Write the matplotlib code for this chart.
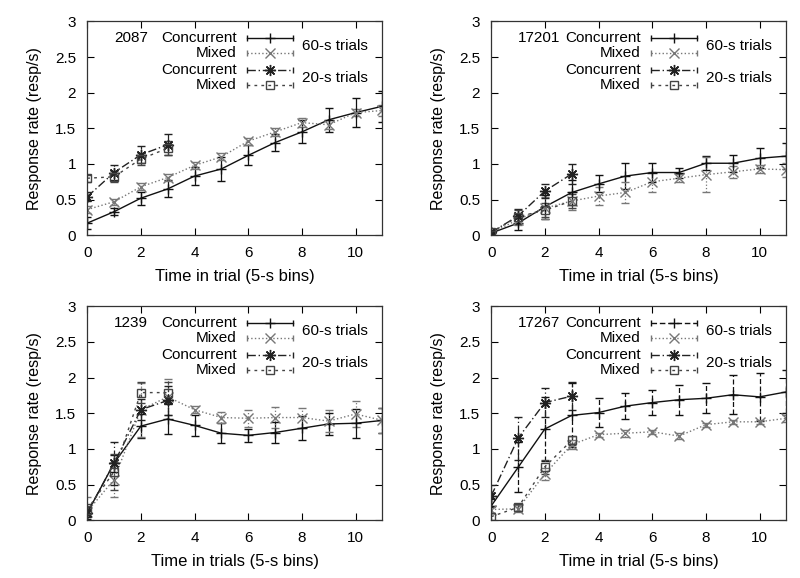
import matplotlib
matplotlib.use("Agg")
import matplotlib.pyplot as plt
import numpy as np

plt.rcParams['font.family'] = ['Liberation Sans', 'DejaVu Sans']

# time bins
t60 = list(range(12))
t20 = list(range(4))

# subject 2087
c60_2087 = [0.17, 0.33, 0.52, 0.65, 0.83, 0.93, 1.12, 1.30, 1.45, 1.62, 1.72, 1.81]
c60e_2087 = [0.08, 0.05, 0.09, 0.12, 0.13, 0.17, 0.14, 0.12, 0.16, 0.17, 0.20, 0.22]
m60_2087 = [0.36, 0.47, 0.68, 0.81, 0.98, 1.10, 1.32, 1.45, 1.58, 1.55, 1.72, 1.75]
m60e_2087 = [0.05, 0.04, 0.05, 0.05, 0.05, 0.05, 0.05, 0.06, 0.06, 0.06, 0.05, 0.08]
c20_2087 = [0.54, 0.88, 1.13, 1.27]
c20e_2087 = [0.06, 0.10, 0.12, 0.15]
m20_2087 = [0.80, 0.82, 1.07, 1.22]
m20e_2087 = [0.05, 0.08, 0.08, 0.10]

# subject 17201
c60_17201 = [0.03, 0.17, 0.40, 0.60, 0.72, 0.83, 0.88, 0.88, 1.01, 1.01, 1.08, 1.11]
c60e_17201 = [0.02, 0.10, 0.17, 0.17, 0.12, 0.18, 0.13, 0.07, 0.10, 0.12, 0.14, 0.18]
m60_17201 = [0.03, 0.22, 0.38, 0.48, 0.55, 0.60, 0.75, 0.80, 0.85, 0.89, 0.93, 0.92]
m60e_17201 = [0.02, 0.08, 0.15, 0.12, 0.13, 0.15, 0.14, 0.06, 0.25, 0.08, 0.06, 0.10]
c20_17201 = [0.04, 0.27, 0.62, 0.86]
c20e_17201 = [0.02, 0.10, 0.10, 0.14]
m20_17201 = [0.04, 0.26, 0.35, 0.48]
m20e_17201 = [0.02, 0.10, 0.10, 0.10]

# subject 1239
c60_1239 = [0.10, 0.80, 1.32, 1.42, 1.33, 1.22, 1.19, 1.23, 1.29, 1.35, 1.36, 1.40]
c60e_1239 = [0.08, 0.12, 0.17, 0.21, 0.15, 0.14, 0.09, 0.15, 0.17, 0.15, 0.20, 0.18]
m60_1239 = [0.12, 0.57, 1.55, 1.73, 1.55, 1.44, 1.43, 1.44, 1.44, 1.39, 1.49, 1.40]
m60e_1239 = [0.20, 0.25, 0.38, 0.25, 0.05, 0.08, 0.12, 0.15, 0.14, 0.15, 0.18, 0.18]
c20_1239 = [0.10, 0.80, 1.55, 1.68]
c20e_1239 = [0.05, 0.30, 0.15, 0.20]
m20_1239 = [0.15, 0.68, 1.79, 1.79]
m20e_1239 = [0.08, 0.25, 0.15, 0.15]

# subject 17267
c60_17267 = [0.20, 0.74, 1.28, 1.47, 1.51, 1.60, 1.65, 1.69, 1.71, 1.76, 1.73, 1.80]
c60e_17267 = [0.10, 0.35, 0.45, 0.45, 0.20, 0.18, 0.18, 0.21, 0.21, 0.27, 0.34, 0.30]
m60_17267 = [0.15, 0.16, 0.65, 1.06, 1.20, 1.22, 1.24, 1.18, 1.34, 1.38, 1.38, 1.43]
m60e_17267 = [0.05, 0.05, 0.08, 0.06, 0.03, 0.05, 0.03, 0.04, 0.03, 0.03, 0.03, 0.05]
c20_17267 = [0.34, 1.15, 1.65, 1.74]
c20e_17267 = [0.15, 0.30, 0.20, 0.20]
m20_17267 = [0.05, 0.18, 0.75, 1.12]
m20e_17267 = [0.05, 0.05, 0.10, 0.06]

subjects = ['2087', '17201', '1239', '17267']
xlabels = ['Time in trial (5-s bins)', 'Time in trial (5-s bins)',
           'Time in trials (5-s bins)', 'Time in trial (5-s bins)']
panels = [
    (c60_2087, c60e_2087, m60_2087, m60e_2087, c20_2087, c20e_2087, m20_2087, m20e_2087),
    (c60_17201, c60e_17201, m60_17201, m60e_17201, c20_17201, c20e_17201, m20_17201, m20e_17201),
    (c60_1239, c60e_1239, m60_1239, m60e_1239, c20_1239, c20e_1239, m20_1239, m20e_1239),
    (c60_17267, c60e_17267, m60_17267, m60e_17267, c20_17267, c20e_17267, m20_17267, m20e_17267),
]

positions = [
    [0.109, 0.593, 0.369, 0.370],
    [0.614, 0.593, 0.369, 0.370],
    [0.109, 0.100, 0.369, 0.370],
    [0.614, 0.100, 0.369, 0.370],
]

star = (8, 2, 0)
styles = [
    dict(color='#111111', ls='-', marker='+', ms=7),
    dict(color='#777777', ls=':', marker='x', ms=7),
    dict(color='#222222', ls=(0, (6, 2, 1, 2)), marker=star, ms=8),
    dict(color='#444444', ls=(0, (2, 3)), marker='s', ms=6),
]

fig = plt.figure(figsize=(8, 5.78), dpi=100)

for i in range(4):
    ax = fig.add_axes(positions[i])
    c60, c60e, m60, m60e, c20, c20e, m20, m20e = panels[i]
    series = [(t60, c60, c60e), (t60, m60, m60e), (t20, c20, c20e), (t20, m20, m20e)]
    for k, (x, y, e) in enumerate(series):
        st = styles[k]
        eb = ax.errorbar(x, y, yerr=e, color=st['color'], ls=st['ls'], lw=1.0,
                         marker=st['marker'], ms=st['ms'], mfc='none', mew=1.0,
                         capsize=3, elinewidth=0.9, capthick=0.9)
        if k == 0 and i == 3:
            for bl in eb[2]:
                bl.set_linestyle((0, (4, 2)))
        elif k > 0:
            for bl in eb[2]:
                bl.set_linestyle(st['ls'])

    ax.set_xlim(0, 11)
    ax.set_ylim(0, 3)
    ax.set_xticks([0, 2, 4, 6, 8, 10])
    ax.set_yticks([0, 0.5, 1, 1.5, 2, 2.5, 3])
    ax.set_yticklabels(['0', '0.5', '1', '1.5', '2', '2.5', '3'])
    ax.tick_params(direction='in', top=True, right=True, length=5, width=0.8,
                   labelsize=11, pad=8)
    for sp in ax.spines.values():
        sp.set_linewidth(0.9)
        sp.set_color('#333333')
    ax.set_xlabel(xlabels[i], fontsize=12, labelpad=6)
    ax.set_ylabel('Response rate (resp/s)', fontsize=11.5, labelpad=9)

    # gnuplot-style key
    rows = [0.921, 0.850, 0.771, 0.701]
    names = ['Concurrent', 'Mixed', 'Concurrent', 'Mixed']
    for k in range(4):
        st = dict(styles[k])
        if k == 0 and i == 3:
            st['ls'] = (0, (4, 2))
        ax.text(0.507, rows[k], names[k], transform=ax.transAxes, ha='right',
                va='center', fontsize=11)
        ax.plot([0.541, 0.696], [rows[k], rows[k]], transform=ax.transAxes,
                color=st['color'], ls=st['ls'], lw=1.0)
        ax.plot([0.541, 0.696], [rows[k], rows[k]], transform=ax.transAxes,
                color=st['color'], ls='none', marker='|', ms=5)
        ax.plot([0.618], [rows[k]], transform=ax.transAxes, color=st['color'],
                ls='none', marker=st['marker'], ms=st['ms'], mfc='none')
    ax.text(0.726, 0.886, '60-s trials', transform=ax.transAxes, va='center', fontsize=11)
    ax.text(0.726, 0.736, '20-s trials', transform=ax.transAxes, va='center', fontsize=11)
    ax.text(0.09, 0.921, subjects[i], transform=ax.transAxes, va='center', fontsize=11)

fig.savefig('out.png', dpi=100)
